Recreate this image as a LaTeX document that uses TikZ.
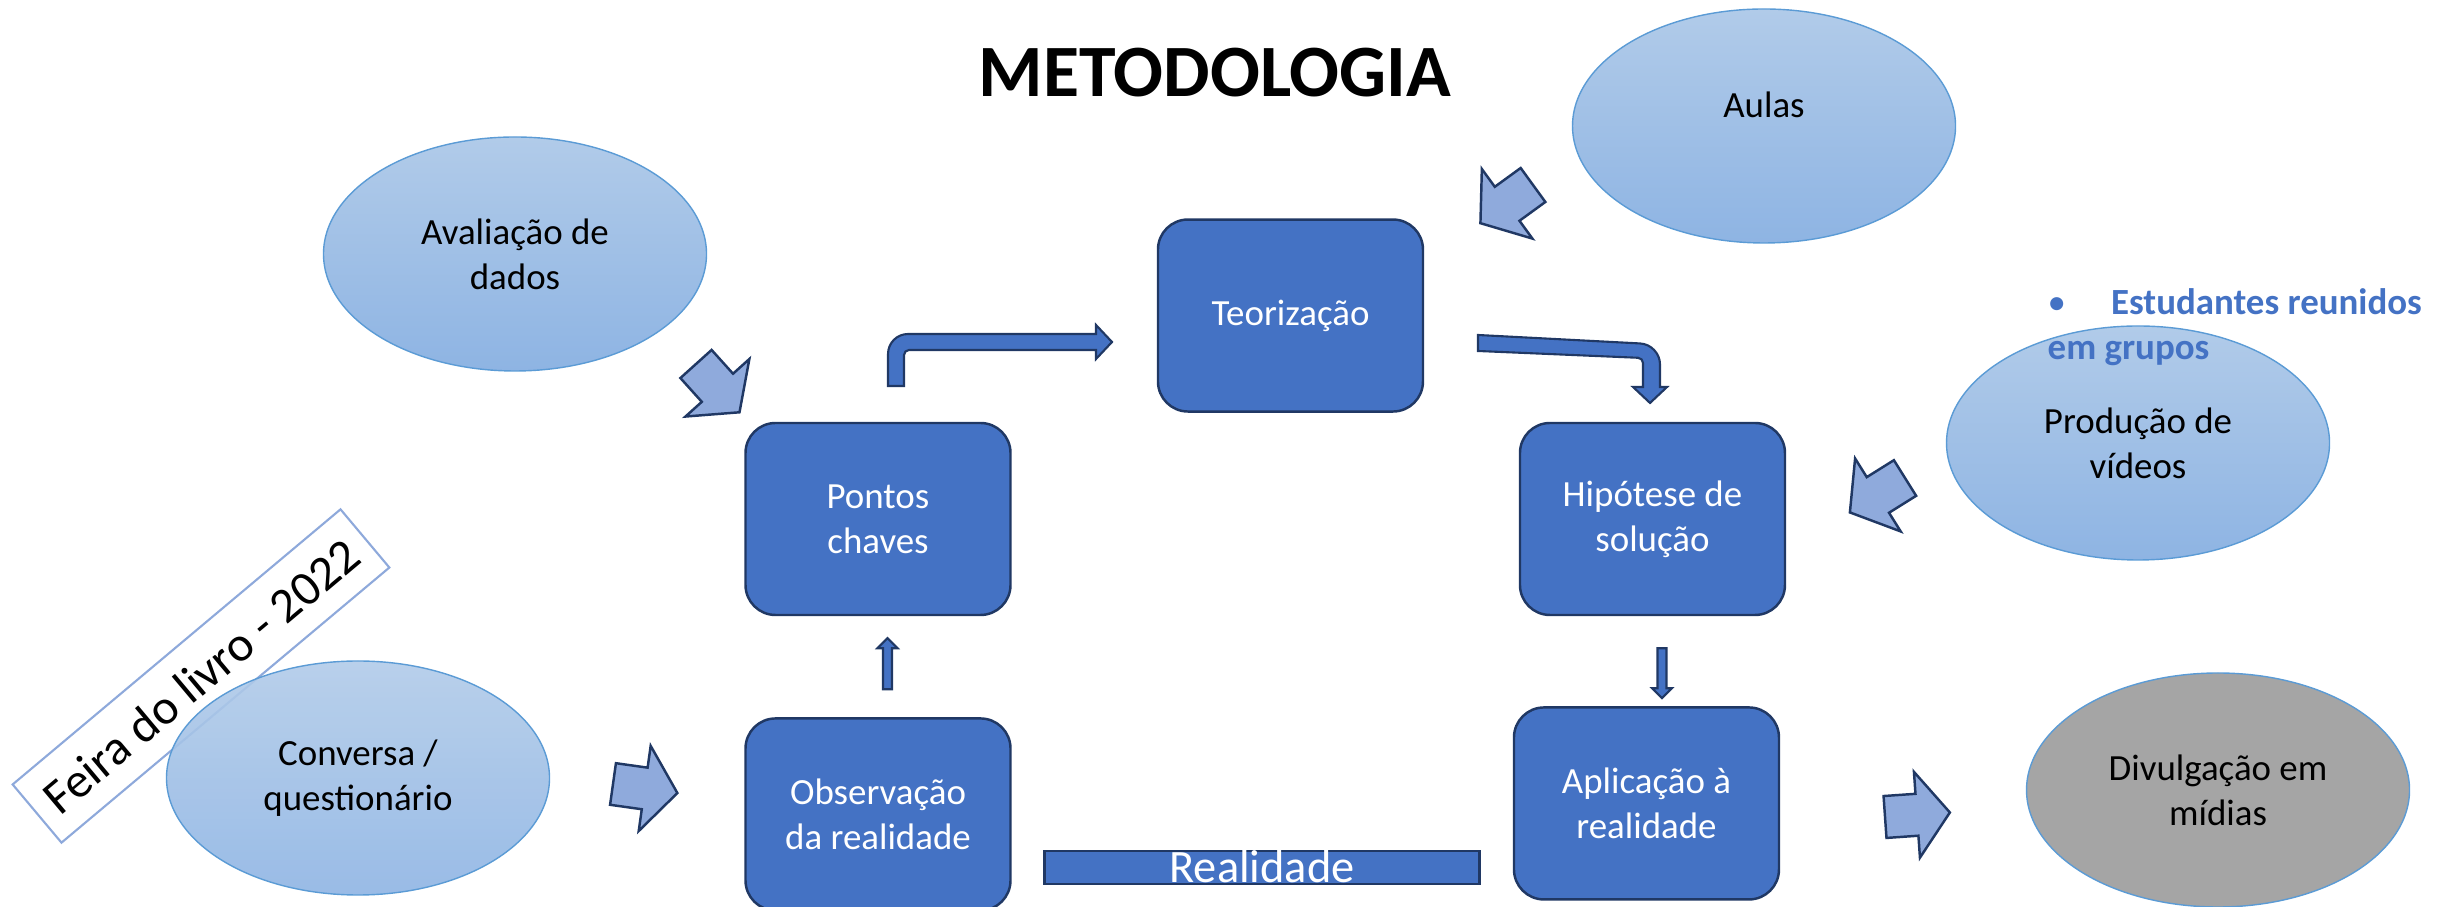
\documentclass[tikz,border=0pt]{standalone}
\usepackage{fontspec}
\setmainfont{Carlito}
\usetikzlibrary{positioning, shapes.geometric}

\definecolor{boxblue}{HTML}{4472C4}
\definecolor{boxline}{HTML}{203864}
\definecolor{bubbletop}{HTML}{B1CBE9}
\definecolor{bubblebottom}{HTML}{8EB4E3}
\definecolor{bubbleline}{HTML}{5B9BD5}
\definecolor{arrowblue}{HTML}{8FAADC}
\definecolor{mediagray}{HTML}{A5A5A5}
\definecolor{feiraline}{HTML}{8EA9DB}

\newcommand{\diagfont}{\fontsize{10.5}{12.8}\selectfont}

\tikzset{
	box/.style={rectangle, rounded corners=0.3cm, fill=boxblue, draw=boxline, line width=0.7pt,
		minimum width=2.65cm, minimum height=1.92cm, inner sep=0pt, text=white, align=center, font=\diagfont},
	oval/.style={ellipse, draw=bubbleline, line width=0.4pt, minimum width=3.83cm, minimum height=2.34cm,
		inner sep=0pt, align=center, font=\diagfont},
	bubble/.style={oval, top color=bubbletop, bottom color=bubblebottom},
	feira/.style={rectangle, draw=feiraline, fill=white, line width=0.6pt, rotate=40,
		minimum width=4.28cm, minimum height=0.76cm, font=\fontsize{14}{17}\selectfont},
	pics/blockarr/.style args={#1/#2/#3/#4}{code={
		\path[pic actions] (0,-#1) -- (#2,-#1) -- (#2,-#3) -- ({#2+#4},0) -- (#2,#3) -- (#2,#1) -- (0,#1) -- cycle;
	}},
	light/.style={fill=arrowblue, draw=boxline, line width=0.7pt},
	dark/.style={fill=boxblue, draw=boxline, line width=0.6pt}
}

\begin{document}
\begin{tikzpicture}
	\useasboundingbox (0,0) rectangle (24.46,9.07);

	%title
	\node[font=\fontsize{21}{25}\selectfont\bfseries] (title) at (12.15,8.345) {METODOLOGIA};

	%cycle
	\node[box] (pontos) at (8.78,3.88) {Pontos\\chaves};
	\node[box, below=1.01cm of pontos] (obs) {Observação\\da realidade};
	\node[box, above right=0.09cm and 1.45cm of pontos] (teor) {Teorização};
	\node[box, right=5.07cm of pontos] (hip) {Hipótese de\\solução};
	\node[box, below=0.90cm of hip, xshift=-0.06cm] (apl) {Aplicação à\\realidade};

	\node[rectangle, fill=boxblue, draw=boxline, line width=0.6pt, minimum width=4.35cm, minimum height=0.33cm,
		inner sep=0pt, text height=0.30cm, text depth=0cm, text=white, font=\fontsize{13.2}{16}\selectfont]
		(real) at (12.62,0.395) {Realidade};

	%inputs
	\node[bubble] (aval) at (5.15,6.53) {Avaliação de\\dados};
	\node[bubble] (aulas) at (17.64,7.81) {};
	\node[font=\diagfont] (aulastxt) at ([yshift=0.21cm]aulas.center) {Aulas};
	\node[bubble] (prod) at (21.38,4.64) {Produção de\\vídeos};
	\node[feira] (feiralabel) at (2.01,2.31) {Feira do livro - 2022};
	\node[bubble, fill opacity=0.9, text opacity=1] (conv) at (3.58,1.29) {Conversa /\\questionário};
	\node[oval, fill=mediagray] (divul) at (22.18,1.17) {Divulgação em\\mídias};

	\node[anchor=west, inner sep=0pt, align=left, text=boxblue, font=\diagfont\bfseries] (grupos) at (20.47,5.80)
		{{\mdseries\textbullet}\hspace{0.45cm}Estudantes reunidos\\em grupos};

	%light arrows
	\pic[light, rotate=-48] at (6.96,5.43) {blockarr={0.21/0.32/0.43/0.33}};
	\pic[light, rotate=216] at (15.33,7.22) {blockarr={0.21/0.32/0.43/0.33}};
	\pic[light, rotate=212] at (19.05,4.29) {blockarr={0.21/0.32/0.43/0.33}};
	\pic[light, rotate=-8] at (6.13,1.23) {blockarr={0.21/0.32/0.43/0.33}};
	\pic[light, rotate=4] at (18.85,0.90) {blockarr={0.21/0.32/0.43/0.33}};

	%dark arrows
	\pic[dark, rotate=90] at ([xshift=0.095cm, yshift=0.28cm]obs.north) {blockarr={0.045/0.41/0.10/0.10}};
	\pic[dark, rotate=-90] at ([xshift=0.095cm, yshift=-0.32cm]hip.south) {blockarr={0.045/0.40/0.10/0.10}};
	\draw[dark] (8.88,5.21) [rounded corners=0.2cm] -- (8.88,5.73) [sharp corners] -- (10.96,5.73) -- (10.96,5.82)
		-- (11.12,5.65) -- (10.96,5.48) -- (10.96,5.57) [rounded corners=0.05cm] -- (9.04,5.57) [sharp corners]
		-- (9.04,5.21) -- cycle;
	\draw[dark] (14.78,5.72) [rounded corners=0.2cm] -- (16.60,5.625) [sharp corners] -- (16.60,5.20) -- (16.67,5.20)
		-- (16.50,5.04) -- (16.33,5.20) -- (16.43,5.20) [rounded corners=0.05cm] -- (16.43,5.49) [sharp corners]
		-- (14.78,5.56) -- cycle;
\end{tikzpicture}
\end{document}
